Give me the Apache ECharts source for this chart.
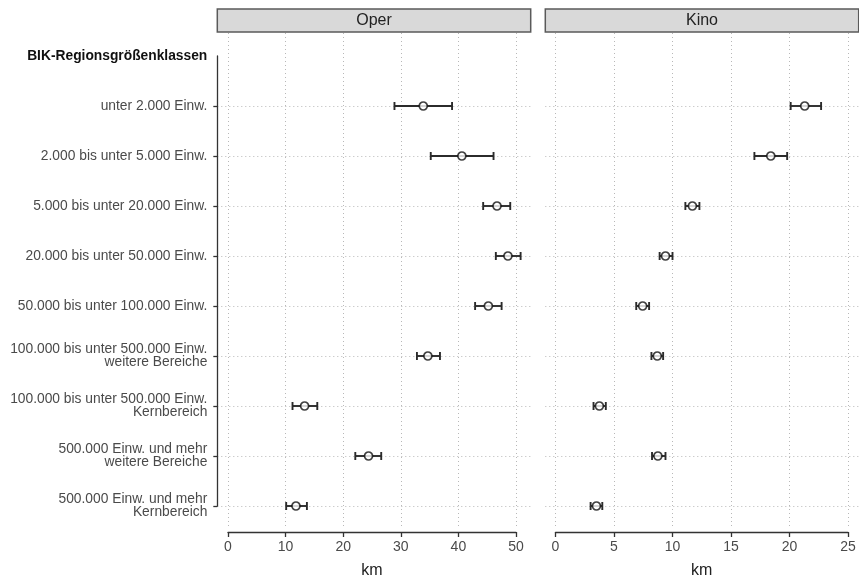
<!DOCTYPE html>
<html><head><meta charset="utf-8">
<script src="https://cdn.jsdelivr.net/npm/echarts@6/dist/echarts.min.js"></script>
<style>html,body{margin:0;padding:0;background:#fff}#c{width:859px;height:578px}</style>
</head><body><div id="c"></div>
<script>
// ---- data ----
const headerLabel = 'BIK-Regionsgrößenklassen';
const categories = [
  'unter 2.000 Einw.',
  '2.000 bis unter 5.000 Einw.',
  '5.000 bis unter 20.000 Einw.',
  '20.000 bis unter 50.000 Einw.',
  '50.000 bis unter 100.000 Einw.',
  '100.000 bis unter 500.000 Einw.\nweitere Bereiche',
  '100.000 bis unter 500.000 Einw.\nKernbereich',
  '500.000 Einw. und mehr\nweitere Bereiche',
  '500.000 Einw. und mehr\nKernbereich'
];
const panelTitles = ['Oper', 'Kino'];
const operMean = [33.9, 40.6, 46.7, 48.6, 45.2, 34.7, 13.3, 24.4, 11.8];
const operLow  = [28.9, 35.2, 44.3, 46.5, 42.9, 32.8, 11.2, 22.1, 10.1];
const operHigh = [38.9, 46.1, 49.0, 50.8, 47.5, 36.8, 15.5, 26.6, 13.7];
const kinoMean = [21.3, 18.4, 11.7, 9.4, 7.45, 8.7, 3.75, 8.75, 3.5];
const kinoLow  = [20.1, 17.0, 11.1, 8.9, 6.9, 8.2, 3.25, 8.25, 3.0];
const kinoHigh = [22.7, 19.8, 12.3, 10.0, 8.0, 9.2, 4.3, 9.4, 4.0];
const operTicks = [0, 50, 10];  // min, max, interval
const kinoTicks = [0, 25, 5];
const xAxisTitle = 'km';

// ---- layout ----
const FONT = '"Liberation Sans", Arial, Helvetica, sans-serif';
const yCats = [headerLabel].concat(categories);
const panels = [
  {title: panelTitles[0], mean: operMean, low: operLow, high: operHigh, ticks: operTicks,
   left: 217.3, right: 530.7, axL: 228, axR: 516},
  {title: panelTitles[1], mean: kinoMean, low: kinoLow, high: kinoHigh, ticks: kinoTicks,
   left: 545.3, right: 858.7, axL: 555.5, axR: 848}
];

const grid = [], xAxis = [], yAxis = [], series = [];

function renderErr(params, api) {
  const y = api.value(2);
  const p1 = api.coord([api.value(0), y]);
  const p2 = api.coord([api.value(1), y]);
  const h = 4;
  const style = {stroke: '#2b2b2b', lineWidth: 1.9, fill: null};
  return {type: 'group', children: [
    {type: 'line', shape: {x1: p1[0], y1: p1[1], x2: p2[0], y2: p2[1]}, style: style},
    {type: 'line', shape: {x1: p1[0], y1: p1[1] - h, x2: p1[0], y2: p1[1] + h}, style: style},
    {type: 'line', shape: {x1: p2[0], y1: p2[1] - h, x2: p2[0], y2: p2[1] + h}, style: style}
  ]};
}

panels.forEach(function (p, pi) {
  const [tmin, tmax, tint] = p.ticks;
  const pxPer = (p.axR - p.axL) / (tmax - tmin);
  const bmin = tmin - (p.axL - p.left) / pxPer;
  const bmax = tmax + (p.right - p.axR) / pxPer;

  // grid A: vertical grid lines + bottom axis
  const gA = grid.length;
  grid.push({left: p.axL, width: p.axR - p.axL, top: 33, height: 493, outerBoundsMode: 'none', containLabel: false});
  xAxis.push({
    gridIndex: gA, type: 'value', min: tmin, max: tmax, interval: tint,
    position: 'bottom', offset: 6,
    axisLine: {show: true, onZero: false, lineStyle: {color: '#333', width: 1.3}},
    axisTick: {show: true, length: 5, inside: false, lineStyle: {color: '#333', width: 1.3}},
    axisLabel: {show: true, margin: 8, color: '#4a4a4a', fontSize: 14, fontFamily: FONT,
                showMinLabel: true, showMaxLabel: true},
    splitLine: {show: true, lineStyle: {type: [1, 3], color: '#b8b8b8', width: 1}},
    name: xAxisTitle, nameLocation: 'middle', nameGap: 39,
    nameTextStyle: {fontSize: 16, color: '#222', fontFamily: FONT, verticalAlign: 'middle'}
  });
  yAxis.push({gridIndex: gA, type: 'value', show: false});

  // grid B: data + horizontal grid lines + category axis
  const gB = grid.length;
  grid.push({left: p.left, width: p.right - p.left, top: 56, height: 450, outerBoundsMode: 'none', containLabel: false});
  xAxis.push({gridIndex: gB, type: 'value', min: bmin, max: bmax, show: false});
  yAxis.push({
    gridIndex: gB, type: 'category', data: yCats, inverse: true, boundaryGap: false,
    position: 'left',
    axisLine: {show: pi === 0, onZero: false, lineStyle: {color: '#333', width: 1.3}},
    axisTick: {show: pi === 0, length: 4, inside: false, interval: function (i) { return i > 0; },
               lineStyle: {color: '#333', width: 1.3}},
    axisLabel: {
      show: pi === 0, interval: 0, margin: 10, color: '#4a4a4a', fontSize: 13.8,
      lineHeight: 13, fontFamily: FONT, align: 'right',
      formatter: function (v, i) { return i === 0 ? '{h|' + v + '}' : v; },
      rich: {h: {fontWeight: 'bold', color: '#111', fontSize: 13.8, fontFamily: FONT}}
    },
    splitLine: {show: true, interval: function (i) { return i > 0; },
                lineStyle: {type: [1, 3], color: '#b8b8b8', width: 1}}
  });

  // strip
  const gS = grid.length;
  grid.push({left: p.left, width: p.right - p.left, top: 9, height: 23, show: true, outerBoundsMode: 'none', containLabel: false,
             backgroundColor: '#d9d9d9', borderColor: '#5a5a5a', borderWidth: 1.5});
  xAxis.push({
    gridIndex: gS, type: 'value', min: 0, max: 1, position: 'bottom',
    axisLine: {show: false}, axisTick: {show: false}, axisLabel: {show: false},
    splitLine: {show: false},
    name: p.title, nameLocation: 'middle', nameGap: -11.5,
    nameTextStyle: {fontSize: 16, color: '#222', fontFamily: FONT, verticalAlign: 'middle'}
  });
  yAxis.push({gridIndex: gS, type: 'value', show: false});

  const axIdx = xAxis.length - 2; // grid B axis index
  series.push({
    type: 'custom', xAxisIndex: axIdx, yAxisIndex: axIdx, renderItem: renderErr,
    clip: false, silent: true, z: 2,
    encode: {x: [0, 1], y: 2},
    data: p.low.map(function (lo, i) { return [lo, p.high[i], i + 1]; })
  });
  series.push({
    type: 'scatter', xAxisIndex: axIdx, yAxisIndex: axIdx, symbol: 'circle', symbolSize: 8,
    clip: false, silent: true, z: 3,
    itemStyle: {color: '#fff', borderColor: '#111', borderWidth: 1.7},
    data: p.mean.map(function (m, i) { return [m, i + 1]; })
  });
});

const chart = echarts.init(document.getElementById('c'), null, {renderer: 'canvas'});
chart.setOption({
  animation: false,
  backgroundColor: '#fff',
  textStyle: {fontFamily: FONT},
  grid: grid, xAxis: xAxis, yAxis: yAxis, series: series
});
</script>
</body></html>
